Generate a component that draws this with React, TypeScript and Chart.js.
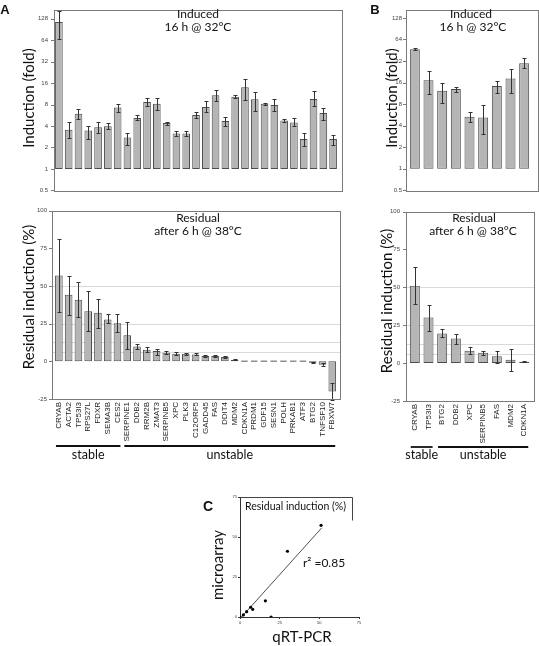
import React, { useEffect, useRef } from "react";
import { Chart, registerables } from "chart.js";
Chart.register(...registerables);

// ---------- data ----------
const genesA = ["CRYAB","ACTA2","TP53I3","RPS27L","FDXR","SEMA3B","CES2","SERPINE1","DDB2","RRM2B","ZMAT3","SERPINB5","XPC","PLK3","C12ORF5","GADD45","FAS","DDIT4","MDM2","CDKN1A","PRDM1","GDF15","SESN1","POLH","PRKAB1","ATF3","BTG2","TNFSF10","FBXW7"];
const stableCountA = 7;
const inducedA = [115,3.55,5.96,3.45,3.85,3.97,7.3,2.76,5.2,8.7,8.2,4.4,3.15,3.15,5.7,7.4,10.8,4.7,10.3,14,9.5,8.2,7.9,4.8,4.5,2.63,9.6,6.1,2.63];
const inducedALow = [66,2.7,4.95,2.6,3.15,3.6,6.3,2.2,4.8,7.6,6.7,4.1,2.9,2.9,5.2,6.2,9.1,4.05,9.8,9.3,6.6,7.9,6.5,4.5,3.97,2.07,7.6,4.9,2.2];
const inducedAHigh = [165,4.6,6.9,4.05,4.5,4.35,8.1,3.2,5.7,9.8,10,4.6,3.4,3.4,6.2,8.9,13,5.4,11,18.5,12.2,8.4,9.6,5.0,5.2,3.15,12.3,7.1,3.0];
const residA = [56.9,44.2,40.9,33.3,32.2,27.8,25.2,17.3,9.8,7.7,6.8,5.7,5.0,5.0,4.6,3.5,3.5,2.8,1.1,0,0,0,0,0,0,0,-1.0,-2.3,-20];
const residALow = [32.6,30.9,29.1,20.1,22.3,25.6,19.7,8.1,8.1,5.9,4.4,4.8,4.2,4.3,4.0,3.0,3.0,2.3,0.8,0,0,0,0,0,0,0,-1.4,-3.3,-25.5];
const residAHigh = [81.4,56.9,52.5,46.6,41.6,31.7,31.1,26.3,11.4,9.8,8.5,6.6,5.9,5.8,5.2,4.2,4.0,3.2,1.3,0,0,0,0,0,0,0,-0.6,-1.4,-14.2];

const genesB = ["CRYAB","TP53I3","BTG2","DDB2","XPC","SERPINB5","FAS","MDM2","CDKN1A"];
const stableCountB = 2;
const inducedB = [46.8,17.2,12.3,13,5.35,5.2,14.3,18.3,29.8];
const inducedBLow = [45,11,8.4,12,4.5,3.1,11.3,11.6,25.9];
const inducedBHigh = [48.5,23.5,15.8,14,6.3,7.7,16.8,24.6,34.8];
const residB = [51.1,30.1,19.6,16.2,8.1,6.8,4.6,2.2,0.9];
const residBLow = [39,21.4,17,12.9,5.9,5.5,0,-5,0.5];
const residBHigh = [63.5,38.6,22.3,19,10.5,8.1,8.1,9.4,1.3];

const foldTicks = [0.5,1,2,4,8,16,32,64,128];
const residTicks = [-25,0,25,50,75,100];
const residGuides = [6.25,12.5,25,50];

const qrtPcr = [51.1,29.9,16.0,19.6,6.7,8.0,4.2,2.1,0];
const microarray = [57.3,41.1,10.1,0,6.1,4.8,3.3,1.3,0];
const fitX = [1,51.5];
const fitY = [0,55.7];
const scatterTicks = [0,25,50,75];

// ---------- styles ----------
const FONT = "Lato, 'Open Sans', sans-serif";
const LABEL_FONT = "'Liberation Sans', Arial, sans-serif";
const BAR_FILL = "#b5b5b5";
const BAR_EDGE = "#4d4d4d";

type Txt = { t: string; x: number; y: number; size: number; rot?: boolean; bold?: boolean; family?: string; align?: CanvasTextAlign; color?: string };
type Deco = {
  box?: { padL: number; padR: number };
  guides?: number[];
  low?: number[]; high?: number[];
  texts?: Txt[];
  groups?: { label: string; from: number; to: number }[];
  lineY?: number; textY?: number;
  titleBox?: { right: number; depth: number };
};

function makeDeco(o: Deco) {
  return {
    id: "deco",
    beforeDatasetsDraw(chart: any) {
      const { ctx, chartArea: ca } = chart;
      const ys = chart.scales.y;
      if (o.guides && o.box) {
        ctx.save();
        ctx.strokeStyle = "#dadada";
        ctx.lineWidth = 1;
        for (const g of o.guides) {
          const y = Math.round(ys.getPixelForValue(g)) + 0.5;
          ctx.beginPath();
          ctx.moveTo(ca.left - o.box.padL, y);
          ctx.lineTo(ca.right + o.box.padR, y);
          ctx.stroke();
        }
        ctx.restore();
      }
    },
    afterDatasetsDraw(chart: any) {
      const { ctx } = chart;
      const ys = chart.scales.y;
      if (o.low && o.high) {
        const meta = chart.getDatasetMeta(0);
        ctx.save();
        ctx.strokeStyle = "#333";
        ctx.lineWidth = 1;
        meta.data.forEach((el: any, i: number) => {
          const lo = o.low![i], hi = o.high![i];
          if (lo == null || hi == null || lo === hi) return;
          const x = Math.round(el.x) + 0.5;
          const y1 = Math.round(ys.getPixelForValue(lo)) + 0.5;
          const y2 = Math.round(ys.getPixelForValue(hi)) + 0.5;
          ctx.beginPath();
          ctx.moveTo(x, y1); ctx.lineTo(x, y2);
          ctx.moveTo(x - 2, y1); ctx.lineTo(x + 2, y1);
          ctx.moveTo(x - 2, y2); ctx.lineTo(x + 2, y2);
          ctx.stroke();
        });
        ctx.restore();
      }
    },
    afterDraw(chart: any) {
      const { ctx, chartArea: ca } = chart;
      const ys = chart.scales.y, xs = chart.scales.x;
      if (o.box) {
        const L = Math.round(ca.left - o.box.padL), R = Math.round(ca.right + o.box.padR);
        ctx.save();
        ctx.strokeStyle = "#7a7a7a";
        ctx.lineWidth = 1;
        ctx.strokeRect(L + 0.5, Math.round(ca.top) + 0.5, R - L, Math.round(ca.bottom - ca.top));
        for (const tk of ys.ticks) {
          const y = Math.round(ys.getPixelForValue(tk.value)) + 0.5;
          ctx.beginPath(); ctx.moveTo(L - 3, y); ctx.lineTo(L, y); ctx.stroke();
        }
        ctx.restore();
      }
      if (o.titleBox) {
        ctx.save();
        ctx.strokeStyle = "#444";
        ctx.lineWidth = 1;
        const t = Math.round(ca.top) + 0.5, r = o.titleBox.right + 0.5;
        ctx.beginPath();
        ctx.moveTo(ca.left, t); ctx.lineTo(r, t); ctx.lineTo(r, t + o.titleBox.depth);
        ctx.stroke();
        ctx.restore();
      }
      if (o.groups) {
        const w = xs.getPixelForValue(1) - xs.getPixelForValue(0);
        ctx.save();
        for (const g of o.groups) {
          const x1 = xs.getPixelForValue(g.from) - 0.3 * w;
          const x2 = xs.getPixelForValue(g.to) + 0.3 * w;
          ctx.strokeStyle = "#111";
          ctx.lineWidth = 1.8;
          ctx.beginPath(); ctx.moveTo(x1, o.lineY!); ctx.lineTo(x2, o.lineY!); ctx.stroke();
          ctx.fillStyle = "#111";
          ctx.font = `12.5px ${FONT}`;
          ctx.textAlign = "center"; ctx.textBaseline = "middle";
          ctx.fillText(g.label, (x1 + x2) / 2, o.textY!);
        }
        ctx.restore();
      }
      for (const tx of o.texts ?? []) {
        ctx.save();
        ctx.fillStyle = tx.color ?? "#111";
        ctx.font = `${tx.bold ? "bold " : ""}${tx.size}px ${tx.family ?? FONT}`;
        ctx.textAlign = tx.align ?? "center";
        ctx.textBaseline = "middle";
        ctx.translate(tx.x, tx.y);
        if (tx.rot) ctx.rotate(-Math.PI / 2);
        ctx.fillText(tx.t, 0, 0);
        ctx.restore();
      }
    },
  };
}

const tickFont = { size: 6, family: LABEL_FONT };
const noGrid = { display: false, drawTicks: false, tickLength: 0 };

function inducedChart(canvas: HTMLCanvasElement, labels: string[], vals: number[], lo: number[], hi: number[], o: { yW: number; padR: number; padTop: number; padBottom: number; max: number; barPct: number; deco: Deco }) {
  return new Chart(canvas, {
    type: "bar",
    data: {
      labels,
      datasets: [{
        data: vals.map((v) => [1, v]) as any,
        backgroundColor: BAR_FILL, borderColor: BAR_EDGE, borderWidth: 1, borderSkipped: false,
        barPercentage: o.barPct, categoryPercentage: 1,
      }],
    },
    options: {
      responsive: false, animation: false,
      layout: { padding: { top: o.padTop, right: o.padR, bottom: o.padBottom, left: 0 } },
      plugins: { legend: { display: false }, tooltip: { enabled: false } },
      scales: {
        x: { display: false, offset: true },
        y: {
          type: "logarithmic", min: 0.5, max: o.max,
          afterBuildTicks: (s: any) => { s.ticks = foldTicks.map((v) => ({ value: v })); },
          afterFit: (s: any) => { s.width = o.yW; },
          ticks: { callback: (v: any) => String(v), font: tickFont, color: "#444", padding: 6, autoSkip: false },
          grid: noGrid, border: { display: false },
        },
      },
    } as any,
    plugins: [makeDeco({ ...o.deco, low: lo, high: hi })],
  });
}

function residChart(canvas: HTMLCanvasElement, labels: string[], vals: number[], lo: number[], hi: number[], o: { yW: number; padR: number; padTop: number; xH: number; barPct: number; yPad: number; deco: Deco; zeroMarks?: boolean }) {
  const datasets: any[] = [{
    data: vals,
    backgroundColor: BAR_FILL, borderColor: BAR_EDGE, borderWidth: 1, borderSkipped: false,
    barPercentage: o.barPct, categoryPercentage: 1, grouped: false,
  }];
  if (o.zeroMarks) {
    datasets.push({
      data: vals.map((v) => (v === 0 ? [-0.5, 0.5] : null)),
      backgroundColor: "#8f8f8f", borderWidth: 0,
      barPercentage: o.barPct * 0.85, categoryPercentage: 1, grouped: false,
    });
  }
  return new Chart(canvas, {
    type: "bar",
    data: { labels, datasets },
    options: {
      responsive: false, animation: false,
      layout: { padding: { top: o.padTop, right: o.padR, bottom: 0, left: 0 } },
      plugins: { legend: { display: false }, tooltip: { enabled: false } },
      scales: {
        x: {
          offset: true,
          afterFit: (s: any) => { s.height = o.xH; },
          ticks: { font: { size: 8, family: LABEL_FONT }, color: "#222", minRotation: 90, maxRotation: 90, autoSkip: false, padding: 3 },
          grid: noGrid, border: { display: false },
        },
        y: {
          min: -25, max: 100,
          afterBuildTicks: (s: any) => { s.ticks = residTicks.map((v) => ({ value: v })); },
          afterFit: (s: any) => { s.width = o.yW; },
          ticks: { font: tickFont, color: "#444", padding: o.yPad, autoSkip: false },
          grid: noGrid, border: { display: false },
        },
      },
    } as any,
    plugins: [makeDeco({ ...o.deco, low: lo, high: hi })],
  });
}

function scatterChart(canvas: HTMLCanvasElement) {
  return new Chart(canvas, {
    type: "scatter",
    data: {
      datasets: [
        { data: qrtPcr.map((x, i) => ({ x, y: microarray[i] })), backgroundColor: "#000", borderColor: "#000", pointRadius: 1.6, borderWidth: 0 },
        { type: "line", data: fitX.map((x, i) => ({ x, y: fitY[i] })), borderColor: "#222", borderWidth: 0.8, pointRadius: 0, showLine: true, fill: false } as any,
      ],
    },
    options: {
      responsive: false, animation: false,
      layout: { padding: { top: 7, right: 11, bottom: 0, left: 0 } },
      plugins: { legend: { display: false }, tooltip: { enabled: false } },
      scales: {
        x: {
          type: "linear", min: 0, max: 75,
          afterBuildTicks: (s: any) => { s.ticks = scatterTicks.map((v) => ({ value: v })); },
          afterFit: (s: any) => { s.height = 29; },
          ticks: { font: { size: 4, family: LABEL_FONT }, color: "#333", padding: 1 },
          grid: { display: true, drawOnChartArea: false, drawTicks: true, tickLength: 2, color: "#333" },
          border: { display: true, color: "#333", width: 1 },
        },
        y: {
          type: "linear", min: 0, max: 75,
          afterBuildTicks: (s: any) => { s.ticks = scatterTicks.map((v) => ({ value: v })); },
          afterFit: (s: any) => { s.width = 45; },
          ticks: { font: { size: 4, family: LABEL_FONT }, color: "#333", padding: 1 },
          grid: { display: true, drawOnChartArea: false, drawTicks: true, tickLength: 2, color: "#333" },
          border: { display: true, color: "#333", width: 1 },
        },
      },
    } as any,
    plugins: [makeDeco({
      titleBox: { right: 157, depth: 23 },
      texts: [
        { t: "C", x: 13, y: 17, size: 14, bold: true, family: LABEL_FONT },
        { t: "Residual induction (%)", x: 50, y: 17, size: 10.5, align: "left" },
        { t: "microarray", x: 23, y: 75, size: 15, rot: true },
        { t: "qRT-PCR", x: 107, y: 147, size: 15 },
        { t: "r\u00B2 =0.85", x: 108, y: 73, size: 12, align: "left" },
      ],
    })],
  });
}

function Panel(props: { left: number; top: number; width: number; height: number; build: (c: HTMLCanvasElement) => Chart }) {
  const ref = useRef<HTMLCanvasElement>(null);
  useEffect(() => {
    const chart = props.build(ref.current!);
    return () => chart.destroy();
  }, []);
  const { left, top, width, height } = props;
  return <canvas ref={ref} width={width} height={height} style={{ position: "absolute", left, top, width, height }} />;
}

const groupsA = [
  { label: "stable", from: 0, to: stableCountA - 1 },
  { label: "unstable", from: stableCountA, to: genesA.length - 1 },
];
const groupsB = [
  { label: "stable", from: 0, to: stableCountB - 1 },
  { label: "unstable", from: stableCountB, to: genesB.length - 1 },
];

export default function App() {
  return (
    <div style={{ position: "absolute", left: 0, top: 0, width: 539, height: 646, background: "#fff", overflow: "hidden" }}>
      <Panel left={0} top={0} width={345} height={200} build={(c) => inducedChart(c, genesA, inducedA, inducedALow, inducedAHigh, {
        yW: 54, padR: 7, padTop: 3, padBottom: 5, max: 172, barPct: 0.78,
        deco: { box: { padL: 0, padR: 4 }, texts: [
          { t: "A", x: 5, y: 10, size: 13, bold: true, family: LABEL_FONT },
          { t: "Induction (fold)", x: 29, y: 98, size: 15, rot: true },
          { t: "Induced", x: 198, y: 14, size: 12 },
          { t: "16 h @ 32\u00B0C", x: 198, y: 27, size: 12 },
        ] },
      })} />
      <Panel left={0} top={200} width={345} height={270} build={(c) => residChart(c, genesA, residA, residALow, residAHigh, {
        yW: 54, padR: 7, padTop: 8, xH: 71, barPct: 0.78, yPad: 7, zeroMarks: true,
        deco: { box: { padL: 2, padR: 3 }, guides: residGuides, groups: groupsA, lineY: 246, textY: 255, texts: [
          { t: "Residual induction (%)", x: 29, y: 97, size: 15, rot: true },
          { t: "Residual", x: 198, y: 18, size: 12 },
          { t: "after 6 h @ 38\u00B0C", x: 198, y: 31, size: 12 },
        ] },
      })} />
      <Panel left={350} top={0} width={189} height={200} build={(c) => inducedChart(c, genesB, inducedB, inducedBLow, inducedBHigh, {
        yW: 58, padR: 8, padTop: 3, padBottom: 3, max: 167, barPct: 0.73,
        deco: { box: { padL: 2, padR: 7 }, texts: [
          { t: "B", x: 25, y: 10, size: 13, bold: true, family: LABEL_FONT },
          { t: "Induction (fold)", x: 42, y: 98, size: 15, rot: true },
          { t: "Induced", x: 121, y: 14, size: 12 },
          { t: "16 h @ 32\u00B0C", x: 123, y: 27, size: 12 },
        ] },
      })} />
      <Panel left={350} top={200} width={189} height={270} build={(c) => residChart(c, genesB, residB, residBLow, residBHigh, {
        yW: 58, padR: 8, padTop: 9, xH: 69, barPct: 0.73, yPad: 8,
        deco: { box: { padL: 2, padR: 3 }, guides: residGuides, groups: groupsB, lineY: 247, textY: 255, texts: [
          { t: "Residual induction (%)", x: 37, y: 101, size: 15, rot: true },
          { t: "Residual", x: 124, y: 18, size: 12 },
          { t: "after 6 h @ 38\u00B0C", x: 123, y: 31, size: 12 },
        ] },
      })} />
      <Panel left={195} top={490} width={175} height={156} build={(c) => scatterChart(c)} />
    </div>
  );
}
